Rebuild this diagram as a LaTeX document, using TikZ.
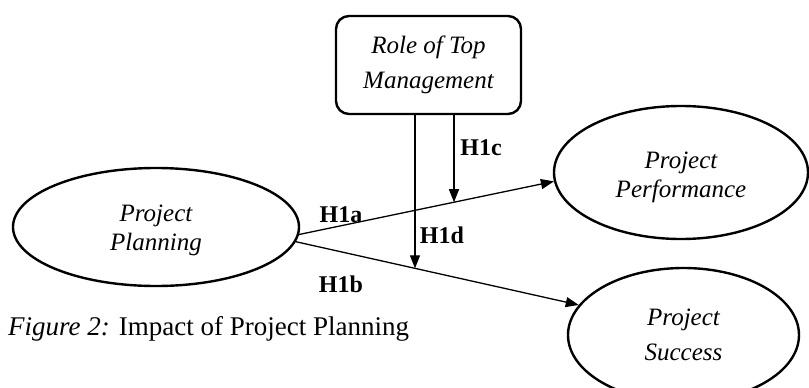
\documentclass[tikz,border=0pt]{standalone}
\usepackage{fontspec}
\setmainfont{Liberation Serif}
\usetikzlibrary{arrows.meta,shapes.geometric,intersections}
\begin{document}
\begin{tikzpicture}[x=1pt,y=-1pt,
  ell/.style={draw,line width=2.4pt,ellipse,inner sep=0pt,align=center,font=\fontsize{25}{29}\selectfont\itshape},
  topbox/.style={draw,line width=2.4pt,rounded corners=13pt,inner sep=0pt,align=center,font=\fontsize{25}{35}\selectfont\itshape},
  arr/.style={line width=1.3pt,-{Triangle[length=13pt,width=10pt]}},
  lbl/.style={anchor=base,inner sep=0pt,font=\fontsize{24}{24}\selectfont\bfseries}]
\useasboundingbox (0,0) rectangle (809,388);
\node[ell,minimum width=286,minimum height=118,text height=52pt] (plan) at (156,227) {Project\\Planning};
\node[ell,minimum width=254,minimum height=133,text height=56pt] (perf) at (681,172.5) {Project\\Performance};
\node[ell,minimum width=231,minimum height=134,font=\fontsize{25}{35}\selectfont\itshape] (succ) at (683.5,335) {Project\\Success};
\node[topbox,minimum width=185,minimum height=98] (top) at (428.5,65) {Role of Top\\Management};
\draw[arr,name path=la] (plan.-3.5) -- (perf.184);
\draw[arr,name path=lb] (plan.-6) -- (succ.164);
\path[name path=vc] (454,100) -- (454,300);
\path[name path=vd] (415,100) -- (415,300);
\path[name intersections={of=la and vc,by=ec}];
\path[name intersections={of=lb and vd,by=ed}];
\draw[arr] (top.south -| ec) -- (ec);
\draw[arr] (top.south -| ed) -- (ed);
\node[lbl] (h1c) at (481,155) {H1c};
\node[lbl] (h1a) at (341,222) {H1a};
\node[lbl] (h1d) at (442,243) {H1d};
\node[lbl] (h1b) at (341,292) {H1b};
\node[anchor=base west,inner sep=0pt,font=\fontsize{27}{30}\selectfont] (cap) at (8,335) {\textit{Figure 2:} Impact of Project Planning};
\end{tikzpicture}
\end{document}
